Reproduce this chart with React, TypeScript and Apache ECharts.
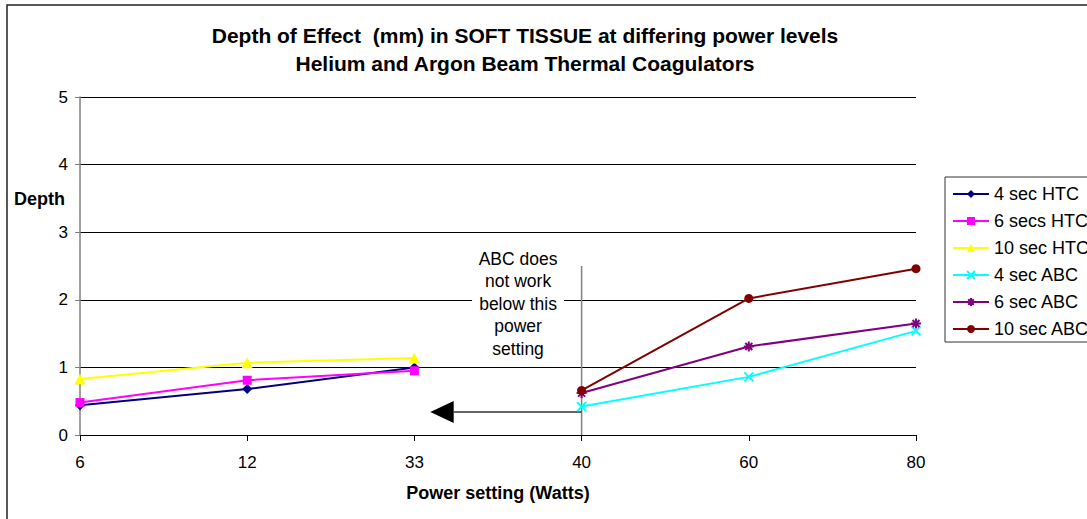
import React, { useEffect, useRef } from "react";
import * as echarts from "echarts";

const categories = ["6", "12", "33", "40", "60", "80"];
const yTicks = [0, 1, 2, 3, 4, 5];
const htc4 = [0.44, 0.68, 1.0, null, null, null];
const htc6 = [0.48, 0.81, 0.95, null, null, null];
const htc10 = [0.83, 1.07, 1.14, null, null, null];
const abc4 = [null, null, null, 0.42, 0.86, 1.54];
const abc6 = [null, null, null, 0.62, 1.31, 1.65];
const abc10 = [null, null, null, 0.66, 2.02, 2.46];
const titleLines = [
  "Depth of Effect  (mm) in SOFT TISSUE at differing power levels",
  "Helium and Argon Beam Thermal Coagulators",
];
const noteText = "ABC does\nnot work\nbelow this\npower\nsetting";

const FONT = "'Liberation Sans', Arial, sans-serif";

const X_PATH = "path://M0,0 L10,10 M10,0 L0,10";
const STAR_PATH = "path://M0,5 L10,5 M5,0 L5,10 M1.5,1.5 L8.5,8.5 M8.5,1.5 L1.5,8.5";

export default function App() {
  const ref = useRef<HTMLDivElement>(null);
  useEffect(() => {
    if (!ref.current) return;
    const chart = echarts.init(ref.current, null, { renderer: "svg" });
    const mk = (name: string, data: any[], color: string, symbol: string, size: number, stroke = false) => ({
      name,
      type: "line",
      data,
      connectNulls: false,
      symbol,
      symbolSize: size,
      lineStyle: { color, width: 2 },
      itemStyle: stroke
        ? { color, borderColor: color, borderWidth: 2 }
        : { color },
      emphasis: { disabled: true },
      z: 3,
    });
    chart.setOption({
      animation: false,
      grid: { left: 80, right: 171, top: 97, bottom: 84, containLabel: false },
      xAxis: {
        type: "category",
        data: categories,
        boundaryGap: false,
        name: "Power setting (Watts)",
        nameLocation: "middle",
        nameGap: 49,
        nameTextStyle: { fontFamily: FONT, fontSize: 18, fontWeight: "bold", color: "#000" },
        axisLine: { lineStyle: { color: "#000", width: 1 } },
        axisTick: { show: true, alignWithLabel: true, length: 6, lineStyle: { color: "#000" } },
        axisLabel: { fontFamily: FONT, fontSize: 17, color: "#000", margin: 19 },
        splitLine: { show: false },
      },
      yAxis: {
        type: "value",
        min: yTicks[0],
        max: yTicks[yTicks.length - 1],
        interval: 1,
        axisLine: { show: true, lineStyle: { color: "#808080", width: 1.5 } },
        axisTick: { show: true, length: 5, lineStyle: { color: "#808080" } },
        axisLabel: { fontFamily: FONT, fontSize: 17, color: "#000", margin: 12 },
        splitLine: { show: true, lineStyle: { color: "#000", width: 1 } },
      },
      legend: {
        orient: "vertical",
        left: 945,
        top: 177,
        padding: [8, 60, 4, 7],
        itemWidth: 36,
        itemHeight: 10,
        itemGap: 9,
        borderColor: "#333",
        borderWidth: 1,
        backgroundColor: "#fff",
        textStyle: { fontFamily: FONT, fontSize: 18, color: "#000" },
        data: ["4 sec HTC", "6 secs HTC", "10 sec HTC", "4 sec ABC", "6 sec ABC", "10 sec ABC"],
      },
      series: [
        mk("4 sec HTC", htc4, "#000080", "diamond", 10),
        mk("6 secs HTC", htc6, "#FF00FF", "rect", 9),
        mk("10 sec HTC", htc10, "#FFFF00", "triangle", 11),
        mk("4 sec ABC", abc4, "#00FFFF", X_PATH, 9, true),
        mk("6 sec ABC", abc6, "#800080", STAR_PATH, 10, true),
        mk("10 sec ABC", abc10, "#800000", "circle", 9),
      ],
    });

    const px = (i: number, v: number) => chart.convertToPixel({ gridIndex: 0 }, [i, v]) as number[];
    const p33 = px(2, 0);
    const p40 = px(3, 0);
    const p40top = px(3, 2.5);
    const pArrow = px(3, 0.34);
    const span = p40[0] - p33[0];
    const tipX = p33[0] + span * 0.095;
    const baseX = p33[0] + span * 0.235;
    const noteX = p33[0] + span * 0.62;
    const noteTop = px(3, 2.77)[1];

    chart.setOption({
      graphic: [
        { type: "rect", shape: { x: 7, y: 5, width: 1100, height: 520 }, style: { fill: "none", stroke: "#222", lineWidth: 1.5 }, silent: true },
        { type: "text", x: 525, y: 35, style: { text: titleLines[0], textAlign: "center", textVerticalAlign: "middle", font: `bold 21px ${FONT}`, fill: "#000" } },
        { type: "text", x: 525, y: 63, style: { text: titleLines[1], textAlign: "center", textVerticalAlign: "middle", font: `bold 21px ${FONT}`, fill: "#000" } },
        { type: "text", x: 14, y: 199, style: { text: "Depth", textAlign: "left", textVerticalAlign: "middle", font: `bold 18px ${FONT}`, fill: "#000" } },
        { type: "rect", z: 1, shape: { x: noteX - 46, y: noteTop - 3, width: 92, height: 117 }, style: { fill: "#fff", stroke: "none" } },
        { type: "text", z: 2, x: noteX, y: noteTop, style: { text: noteText, textAlign: "center", textVerticalAlign: "top", font: `17.5px ${FONT}`, lineHeight: 22.5, fill: "#000" } },
        { type: "line", z: 1, shape: { x1: p40top[0], y1: p40top[1], x2: p40[0], y2: p40[1] }, style: { stroke: "#808080", lineWidth: 1.5 } },
        { type: "line", z: 1, shape: { x1: p40[0], y1: pArrow[1], x2: baseX, y2: pArrow[1] }, style: { stroke: "#333", lineWidth: 1.5 } },
        { type: "polygon", z: 1, shape: { points: [[tipX, pArrow[1]], [baseX, pArrow[1] - 11], [baseX, pArrow[1] + 11]] }, style: { fill: "#000" } },
      ],
    });
    return () => chart.dispose();
  }, []);
  return <div ref={ref} style={{ position: "absolute", left: 0, top: 0, width: 1087, height: 519, background: "#fff" }} />;
}
